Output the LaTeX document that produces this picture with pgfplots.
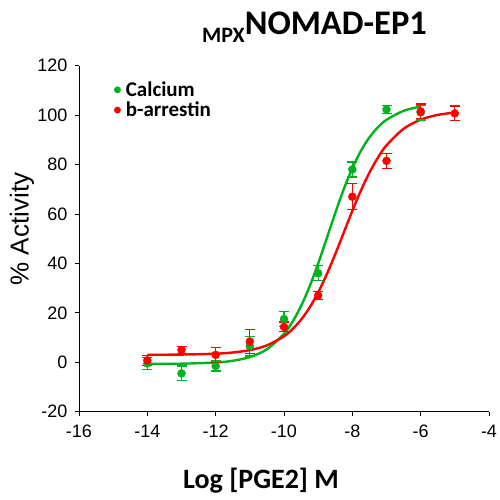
\documentclass[border=0pt]{standalone}
\usepackage{fontspec}
\setmainfont{Liberation Sans}
\newfontfamily\calibri{Carlito}
\usepackage{pgfplots}
\pgfplotsset{compat=1.18}
\definecolor{cgreen}{RGB}{0,178,30}
\definecolor{cred}{RGB}{255,0,0}
\begin{document}
\begin{tikzpicture}[x=1pt,y=1pt]
\useasboundingbox (0,0) rectangle (500,500);
\begin{axis}[
  at={(79pt,88.3pt)}, anchor=south west,
  scale only axis, width=410pt, height=346pt,
  xmin=-16, xmax=-4, ymin=-20, ymax=120,
  axis x line=bottom, axis y line=left,
  axis line style={-, line width=0.9pt},
  xtick={-16,-14,...,-4}, ytick={-20,0,...,120},
  tick align=outside, major tick length=4pt,
  tick style={line width=0.9pt, black},
  /pgf/number format/assume math mode=true,
  ticklabel style={font=\fontsize{18}{20}\selectfont},
  xticklabel style={yshift=-6pt},
  yticklabel style={xshift=-4pt},
  clip=false,
  legend style={at={(0.085,0.96)}, anchor=north west, draw=none, fill=none,
    font=\calibri\bfseries\fontsize{21}{23}\selectfont, row sep=0pt, inner sep=0pt,
    nodes={inner xsep=5pt}},
  legend cell align=left,
]
% fitted curves
\addplot[cgreen, line width=2.4pt, smooth, forget plot] coordinates {
(-14,-0.67)(-13,-0.57)(-12,-0.10)(-11.5,0.60)(-11,2.11)(-10.5,5.26)(-10,11.51)
(-9.75,16.41)(-9.5,22.79)(-9.25,30.70)(-9,39.95)(-8.75,50.09)(-8.5,60.36)
(-8.25,70.05)(-8,78.54)(-7.75,85.5)(-7.5,90.99)(-7.25,95.10)(-7,98.10)
(-6.5,101.73)(-6,103.48)};
\addplot[cred, line width=2.4pt, smooth, forget plot] coordinates {
(-14,3.03)(-13,3.11)(-12,3.47)(-11.5,3.95)(-11,4.91)(-10.5,6.83)(-10,10.52)
(-9.75,13.41)(-9.5,17.23)(-9.25,22.15)(-9,28.27)(-8.75,35.54)(-8.5,43.76)
(-8.25,52.5)(-8,61.24)(-7.75,69.45)(-7.5,76.72)(-7.25,82.85)(-7,87.77)
(-6.5,94.48)(-6,98.17)(-5.5,100.09)(-5,101.05)};
% data points
\addplot[only marks, mark=*, mark size=4pt, color=cgreen, draw=cgreen, fill=cgreen, forget plot,
  error bars/.cd, y dir=both, y explicit,
  error bar style={line width=1.2pt, draw=cgreen, color=cgreen},
  error mark options={rotate=90, mark size=5pt, line width=1.2pt, draw=cgreen, color=cgreen}]
  coordinates {
(-14,-0.5) +- (0,2.5)
(-13,-4.5) +- (0,3)
(-12,-1.5) +- (0,2)
(-11,6.5) +- (0,4)
(-10,17.5) +- (0,3)
(-9,36) +- (0,3)
(-8,78) +- (0,3)
(-7,102.3) +- (0,1.5)
(-6,101) +- (0,3)};
\addplot[only marks, mark=*, mark size=4pt, color=cred, draw=cred, fill=cred, forget plot,
  error bars/.cd, y dir=both, y explicit,
  error bar style={line width=1.2pt, draw=cred, color=cred},
  error mark options={rotate=90, mark size=5pt, line width=1.2pt, draw=cred, color=cred}]
  coordinates {
(-14,0.8) +- (0,2)
(-13,5) +- (0,1.5)
(-12,3) +- (0,3)
(-11,8.4) +- (0,5)
(-10,14.3) +- (0,2)
(-9,27) +- (0,1.5)
(-8,67) +- (0,5.3)
(-7,81.5) +- (0,3)
(-6,101.5) +- (0,3)
(-5,100.7) +- (0,3)};
\addlegendimage{legend image code/.code={\fill[cgreen] (0.12cm,0) circle (3.2pt);}}
\addlegendentry{Calcium}
\addlegendimage{legend image code/.code={\fill[cred] (0.12cm,0) circle (3.2pt);}}
\addlegendentry{b-arrestin}
\end{axis}
\node[anchor=base west, inner sep=0pt] at (202,465)
  {\calibri\bfseries\raisebox{-8pt}{\fontsize{22}{24}\selectfont MPX}\fontsize{34.5}{36}\selectfont NOMAD-EP1};
\node[anchor=base west, inner sep=0pt] at (183,12)
  {\calibri\bfseries\fontsize{28}{30}\selectfont Log [PGE2] M};
\node[rotate=90, inner sep=0pt] at (22,271) {\fontsize{26}{28}\selectfont \% Activity};
\end{tikzpicture}
\end{document}
